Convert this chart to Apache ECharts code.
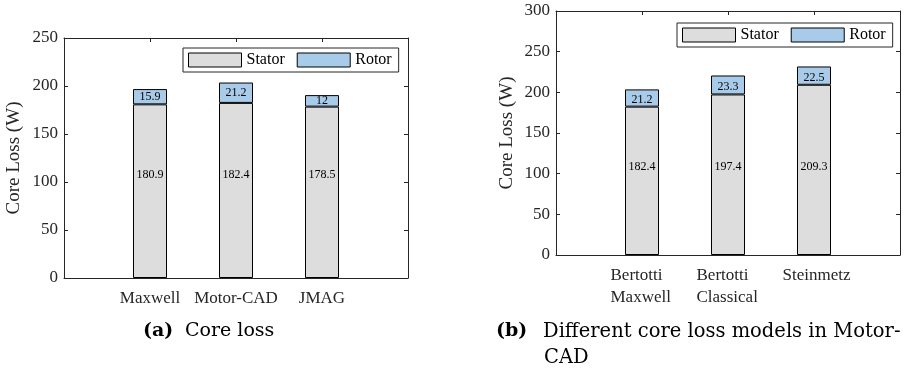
<!DOCTYPE html>
<html>
<head>
<meta charset="utf-8">
<script src="https://cdn.jsdelivr.net/npm/echarts@6/dist/echarts.min.js"></script>
<style>
html,body{margin:0;padding:0;background:#fff;}
#chart{width:904px;height:371px;}
</style>
</head>
<body>
<div id="chart"></div>
<script>
// ---- data ----
const categoriesA = ['Maxwell', 'Motor-CAD', 'JMAG'];
const statorA = [180.9, 182.4, 178.5];
const rotorA = [15.9, 21.2, 12];
const yTicksA = { min: 0, max: 250, interval: 50 };

const categoriesB = ['Bertotti\nMaxwell', 'Bertotti\nClassical', 'Steinmetz'];
const statorB = [182.4, 197.4, 209.3];
const rotorB = [21.2, 23.3, 22.5];
const yTicksB = { min: 0, max: 300, interval: 50 };

const seriesNames = ['Stator', 'Rotor'];
const yAxisTitle = 'Core Loss (W)';
const captionA = ['(a)', 'Core loss'];
const captionB = ['(b)', 'Different core loss models in Motor-', 'CAD'];

// ---- styling ----
const FONT = 'Liberation Serif';
const CAP_FONT = 'DejaVu Serif';
const AX = '#262626';
const STATOR_COLOR = '#dddddd';
const ROTOR_COLOR = '#a9cbea';

// pad categories with empty slots so bars sit at 1,2,3 of a 0..4 range
function padCats(c) { return [' '].concat(c).concat(['  ']); }
function padVals(v) { return ['-'].concat(v).concat(['-']); }

const chart = echarts.init(document.getElementById('chart'), null, { renderer: 'canvas' });

const lineStyle = { show: true, onZero: false, lineStyle: { color: AX, width: 1 } };
const tickStyle = { show: true, inside: true, length: 4, lineStyle: { color: AX, width: 1 } };

function xAxes(gridIndex, cats, rich) {
  const bottom = {
    type: 'category', gridIndex, position: 'bottom', boundaryGap: false,
    data: padCats(cats),
    axisLine: lineStyle,
    axisTick: tickStyle,
    axisLabel: {
      show: true, interval: 0, margin: 10, color: AX,
      fontFamily: FONT, fontSize: 17, lineHeight: 22,
      formatter: rich ? function (v) {
        if (!v.trim()) return '';
        return v.split('\n').map(s => '{l|' + s + '}').join('\n');
      } : null,
      rich: rich ? { l: { width: 63, align: 'left', fontFamily: FONT, fontSize: 17, lineHeight: 22, color: AX } } : undefined
    },
    splitLine: { show: false }
  };
  const top = {
    type: 'category', gridIndex, position: 'top', boundaryGap: false,
    data: padCats(cats),
    axisLine: lineStyle,
    axisTick: tickStyle,
    axisLabel: { show: false }, splitLine: { show: false }
  };
  return [bottom, top];
}

function yAxes(gridIndex, t, nameGap) {
  const left = {
    type: 'value', gridIndex, position: 'left', min: t.min, max: t.max, interval: t.interval,
    name: yAxisTitle, nameLocation: 'middle', nameGap: nameGap,
    nameTextStyle: { fontFamily: FONT, fontSize: 19, color: AX },
    axisLine: lineStyle,
    axisTick: tickStyle,
    axisLabel: { show: true, margin: 6, color: AX, fontFamily: FONT, fontSize: 17 },
    splitLine: { show: false }
  };
  const right = {
    type: 'value', gridIndex, position: 'right', min: t.min, max: t.max, interval: t.interval,
    axisLine: lineStyle,
    axisTick: tickStyle,
    axisLabel: { show: false }, splitLine: { show: false }
  };
  return [left, right];
}

function barSeries(xi, yi, stator, rotor, statorDist, rotorOffset) {
  return [
    {
      name: seriesNames[0], type: 'bar', stack: 's' + xi, xAxisIndex: xi, yAxisIndex: yi,
      barWidth: 34, data: padVals(stator),
      itemStyle: { color: STATOR_COLOR, borderColor: '#000', borderWidth: 1 },
      label: { show: true, position: 'insideBottom', distance: statorDist,
        fontFamily: FONT, fontSize: 12, color: '#000' },
      emphasis: { disabled: true }
    },
    {
      name: seriesNames[1], type: 'bar', stack: 's' + xi, xAxisIndex: xi, yAxisIndex: yi,
      barWidth: 34, data: padVals(rotor),
      itemStyle: { color: ROTOR_COLOR, borderColor: '#000', borderWidth: 1 },
      label: { show: true, position: 'inside', offset: [0, rotorOffset],
        fontFamily: FONT, fontSize: 12, color: '#000' },
      emphasis: { disabled: true }
    }
  ];
}

function legend(left, top) {
  return {
    left, top, orient: 'horizontal', data: seriesNames,
    itemWidth: 53, itemHeight: 14, itemGap: 12,
    padding: [4, 7, 4, 5],
    borderColor: AX, borderWidth: 1, backgroundColor: '#fff',
    icon: 'rect',
    itemStyle: { borderWidth: 1, borderColor: '#000' },
    textStyle: { fontFamily: FONT, fontSize: 16, color: '#000' },
    selectedMode: false
  };
}

const xa = xAxes(0, categoriesA, false);
const xb = xAxes(1, categoriesB, true);
const ya = yAxes(0, yTicksA, 40);
const yb = yAxes(1, yTicksB, 39);

const capStyle = (bold) => ({ fontFamily: CAP_FONT, fontSize: 19, fontWeight: bold ? 'bold' : 'normal', color: '#000' });

const option = {
  animation: false,
  backgroundColor: '#fff',
  grid: [
    { left: 64, top: 38, width: 344, height: 240, show: false },
    { left: 556, top: 11, width: 344, height: 244, show: false }
  ],
  xAxis: [xa[0], xa[1], xb[0], xb[1]],
  yAxis: [ya[0], ya[1], yb[0], yb[1]],
  legend: [legend(183, 48), legend(677, 23)],
  title: [
    { text: captionA[0], left: 143, top: 322, padding: 0, textStyle: capStyle(true) },
    { text: captionA[1], left: 185, top: 322, padding: 0, textStyle: capStyle(false) },
    { text: captionB[0], left: 496, top: 322, padding: 0, textStyle: capStyle(true) },
    { text: captionB[1], left: 543, top: 322, padding: 0, textStyle: Object.assign(capStyle(false), { fontSize: 19.5 }) },
    { text: captionB[2], left: 544, top: 348, padding: 0, textStyle: Object.assign(capStyle(false), { fontSize: 19.5 }) }
  ],
  series: [].concat(
    barSeries(0, 0, statorA, rotorA, 97, 0),
    barSeries(2, 2, statorB, rotorB, 82, 2)
  )
};
chart.setOption(option);
</script>
</body>
</html>
